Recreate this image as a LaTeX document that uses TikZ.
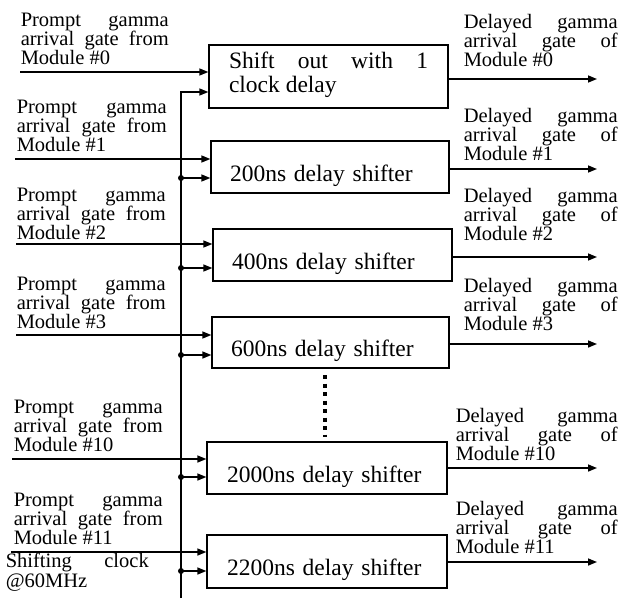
\documentclass[tikz,border=0pt]{standalone}
\usepackage{fontspec}
\setmainfont{Liberation Serif}
\usetikzlibrary{arrows.meta}
\tolerance=10000
\hbadness=10000
\begin{document}
\begin{tikzpicture}[x=1pt,y=-1pt,
  line width=1.5pt,
  box/.style={draw, line width=1.3pt, inner xsep=19pt, inner ysep=0pt,
    font=\fontsize{23.5}{24}\selectfont, align=left, text height=31pt, text depth=3pt},
  lbl/.style={inner sep=0pt, anchor=base west, align=justify,
    font=\fontsize{20.5}{19}\selectfont},
  arr/.style={-{Triangle[length=9pt,width=7pt]}},
  jdot/.style={circle, fill, inner sep=0pt, minimum size=6pt},
  dotline/.style={line width=4pt, dash pattern=on 4pt off 4.5pt}
]
\useasboundingbox (0,0) rectangle (621,598);

% boxes
\node[box, minimum width=239pt, minimum height=63pt, text width=199pt,
      align=justify, text height=12pt, text depth=29pt]
  (b0) at (328.5,76.5) {Shift out with 1\linebreak clock delay};
\node[box, minimum width=238pt, minimum height=52pt, text width=200pt] (b1) at (330,167) {200ns delay shifter};
\node[box, minimum width=239pt, minimum height=52pt, text width=201pt] (b2) at (332.5,255) {400ns delay shifter};
\node[box, minimum width=237pt, minimum height=51pt, text width=199pt] (b3) at (330.5,342.5) {600ns delay shifter};
\node[box, minimum width=240pt, minimum height=52pt, text width=200pt] (b10) at (327,468) {2000ns delay shifter};
\node[box, minimum width=240pt, minimum height=53pt, text width=200pt] (b11) at (327,561.5) {2200ns delay shifter};

% left labels
\node[lbl, text width=148pt] (p0) at (20,26) {Prompt gamma\linebreak arrival gate from\linebreak Module \#0};
\node[lbl, text width=150pt] (p1) at (16,113) {Prompt gamma\linebreak arrival gate from\linebreak Module \#1};
\node[lbl, text width=149pt] (p2) at (16,201) {Prompt gamma\linebreak arrival gate from\linebreak Module \#2};
\node[lbl, text width=149pt] (p3) at (16,290) {Prompt gamma\linebreak arrival gate from\linebreak Module \#3};
\node[lbl, text width=149pt] (p10) at (13,413) {Prompt gamma\linebreak arrival gate from\linebreak Module \#10};
\node[lbl, text width=149pt] (p11) at (13,506) {Prompt gamma\linebreak arrival gate from\linebreak Module \#11};
\node[lbl, text width=143pt, font=\fontsize{20.5}{20}\selectfont] (clk) at (5,567) {Shifting clock\linebreak @60MHz};

% right labels
\node[lbl, text width=154pt] (q0) at (463,28) {Delayed gamma\linebreak arrival gate of\linebreak Module \#0};
\node[lbl, text width=154pt] (q1) at (463,122) {Delayed gamma\linebreak arrival gate of\linebreak Module \#1};
\node[lbl, text width=154pt] (q2) at (463,202) {Delayed gamma\linebreak arrival gate of\linebreak Module \#2};
\node[lbl, text width=154pt] (q3) at (463,292) {Delayed gamma\linebreak arrival gate of\linebreak Module \#3};
\node[lbl, text width=162pt] (q10) at (455,422) {Delayed gamma\linebreak arrival gate of\linebreak Module \#10};
\node[lbl, text width=162pt] (q11) at (455,515) {Delayed gamma\linebreak arrival gate of\linebreak Module \#11};

% input arrows
\coordinate (i0) at (20,72);
\coordinate (i1) at (15,159);
\coordinate (i2) at (16,244);
\coordinate (i3) at (16,335);
\coordinate (i10) at (12,459);
\coordinate (i11) at (11,552);
\draw[arr] (i0) -- (i0 -| b0.west);
\draw[arr] (i1) -- (i1 -| b1.west);
\draw[arr] (i2) -- (i2 -| b2.west);
\draw[arr] (i3) -- (i3 -| b3.west);
\draw[arr] (i10) -- (i10 -| b10.west);
\draw[arr] (i11) -- (i11 -| b11.west);

% clock bus
\coordinate (busB) at (181,598);
\coordinate (busT) at (181,92);
\draw[arr] (busB) -- (busT) -- (busT -| b0.west);
\coordinate (k1) at (181,178);
\coordinate (k2) at (181,268);
\coordinate (k3) at (181,355);
\coordinate (k10) at (181,477);
\coordinate (k11) at (181,571);
\node[jdot] (j1) at (k1) {};
\node[jdot] (j2) at (k2) {};
\node[jdot] (j3) at (k3) {};
\node[jdot] (j10) at (k10) {};
\node[jdot] (j11) at (k11) {};
\draw[arr] (j1.center) -- (k1 -| b1.west);
\draw[arr] (j2.center) -- (k2 -| b2.west);
\draw[arr] (j3.center) -- (k3 -| b3.west);
\draw[arr] (j10.center) -- (k10 -| b10.west);
\draw[arr] (j11.center) -- (k11 -| b11.west);

% output arrows
\coordinate (o0) at (597,79);
\coordinate (o1) at (597,169);
\coordinate (o2) at (597,257);
\coordinate (o3) at (597,344);
\coordinate (o10) at (597,468);
\coordinate (o11) at (597,562);
\draw[arr] (b0.east |- o0) -- (o0);
\draw[arr] (b1.east |- o1) -- (o1);
\draw[arr] (b2.east |- o2) -- (o2);
\draw[arr] (b3.east |- o3) -- (o3);
\draw[arr] (b10.east |- o10) -- (o10);
\draw[arr] (b11.east |- o11) -- (o11);

% ellipsis
\coordinate (dt) at (324.5,375);
\coordinate (db) at (324.5,437);
\draw[dotline] (dt) -- (db);
\end{tikzpicture}
\end{document}
